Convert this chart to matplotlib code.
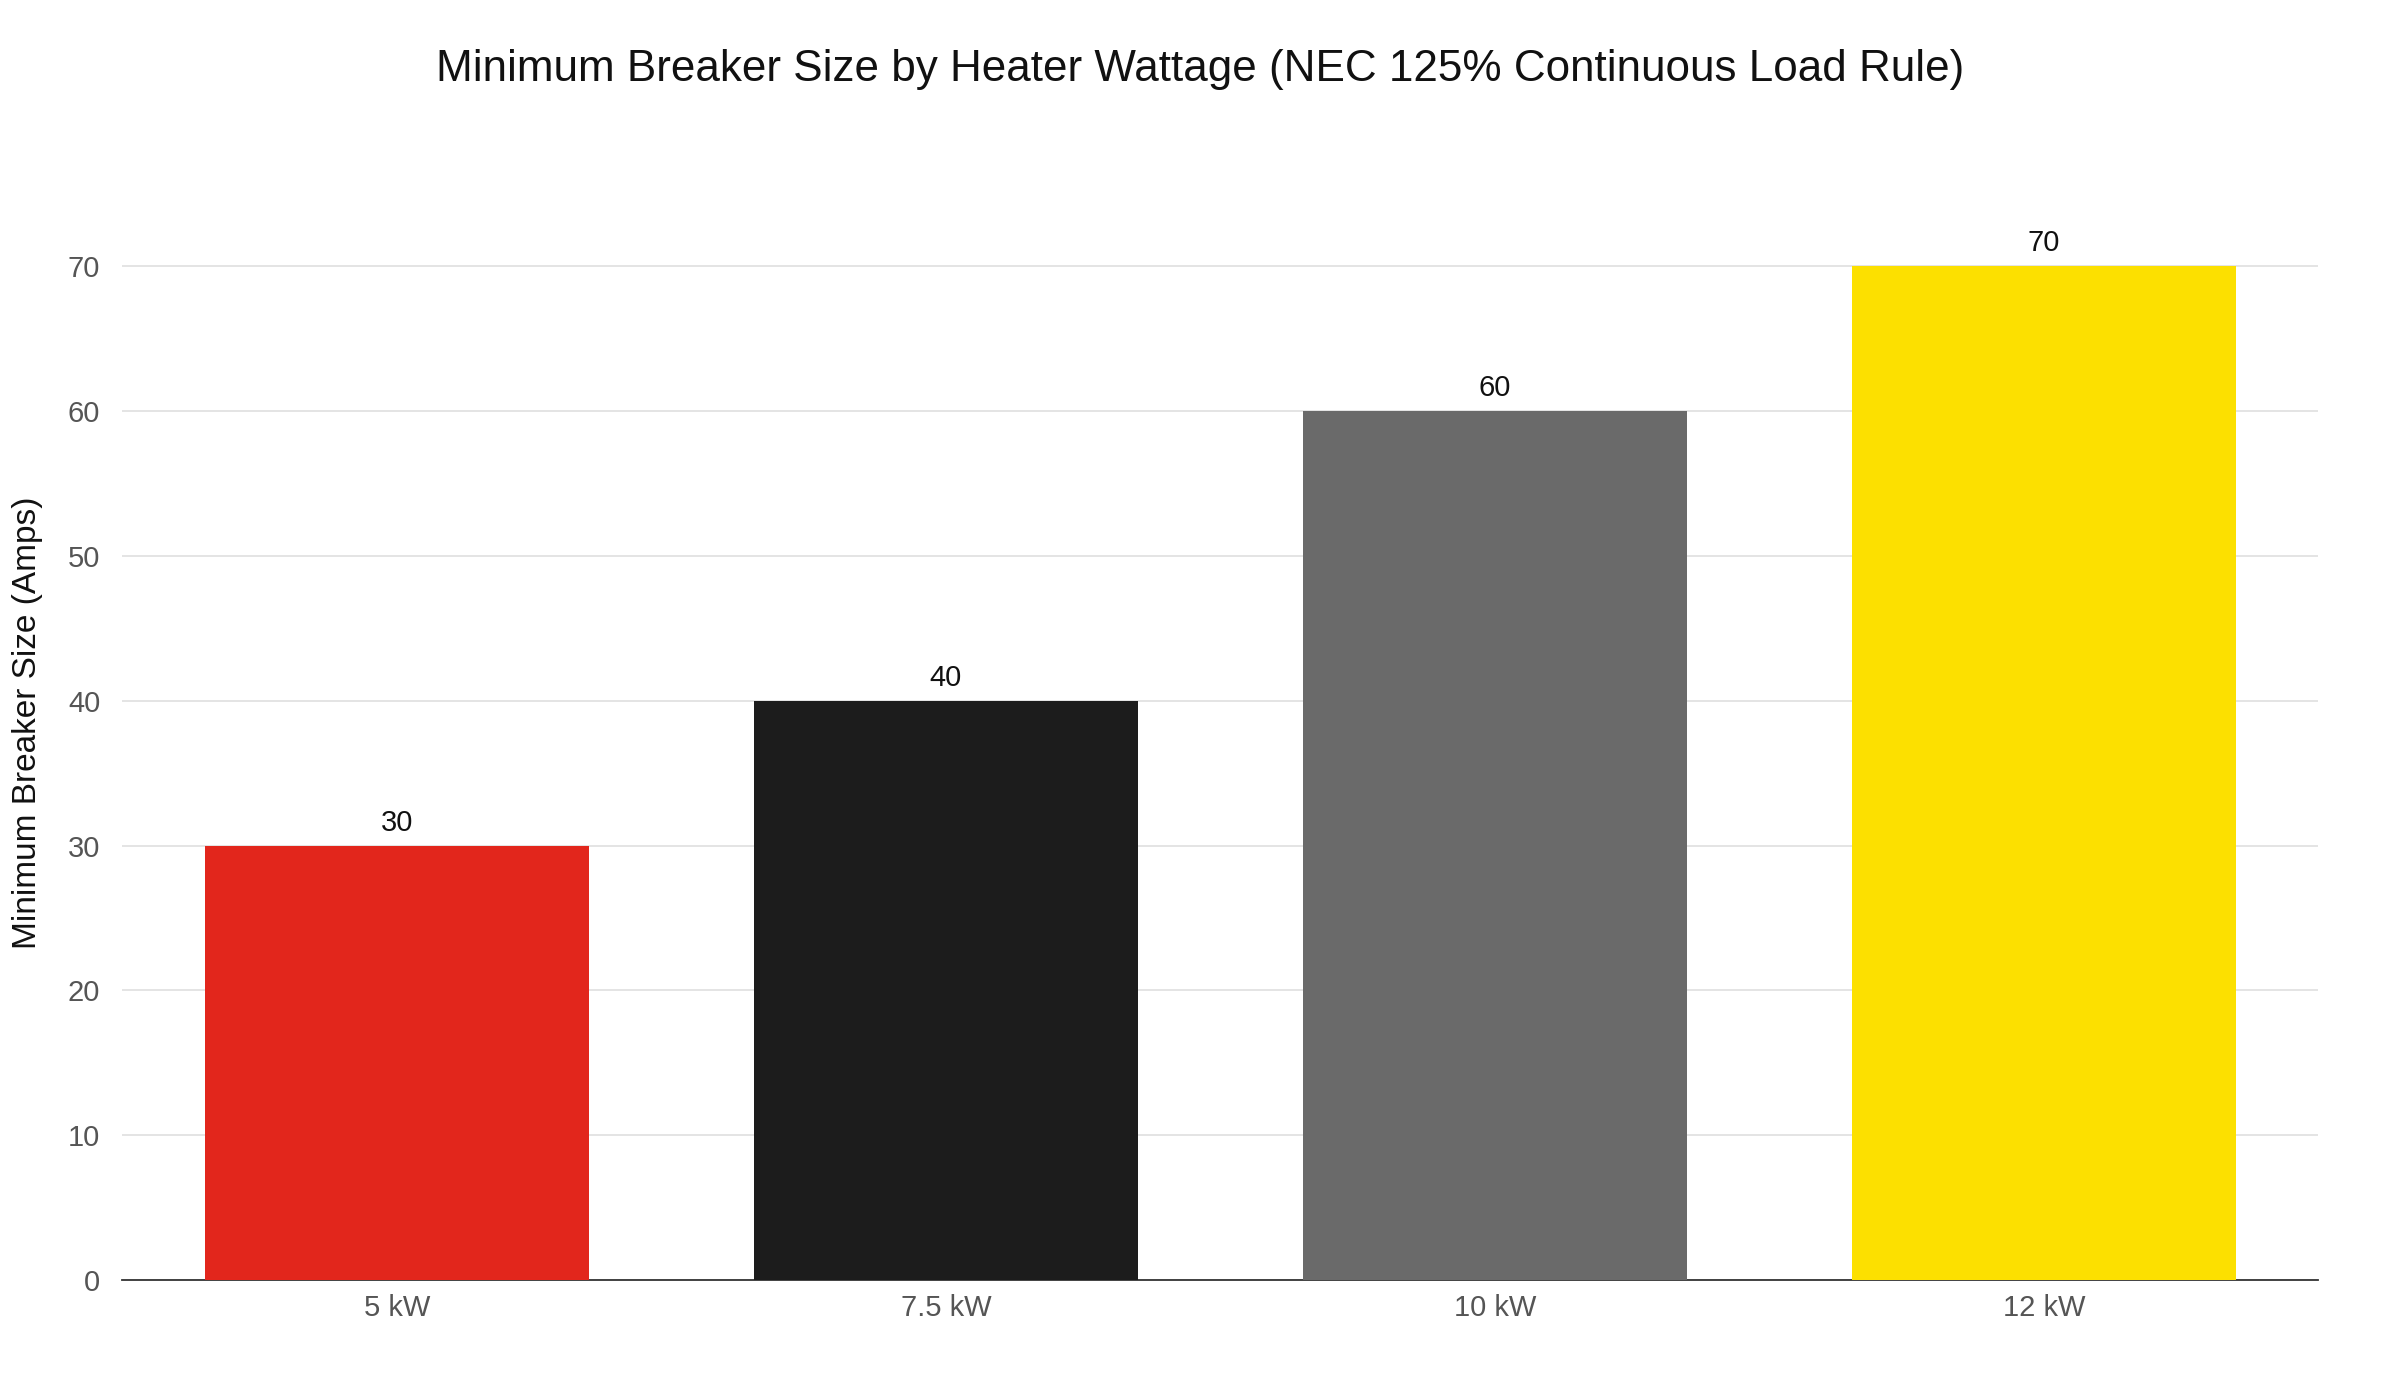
import matplotlib
matplotlib.use("Agg")
import matplotlib.pyplot as plt

categories = ["5 kW", "7.5 kW", "10 kW", "12 kW"]
values = [30, 40, 60, 70]
colors = ["#E2261C", "#1C1C1C", "#6A6A6A", "#FCE000"]
yticks = [0, 10, 20, 30, 40, 50, 60, 70]

plt.rcParams['font.family'] = ['Liberation Sans', 'DejaVu Sans']
fig = plt.figure(figsize=(24, 14), dpi=100)
ax = fig.add_axes([0.051, 0.0855, 0.915, 0.797])
x = list(range(len(categories)))
ax.bar(x, values, width=0.7, color=colors, zorder=3)
for xi, v in zip(x, values):
    ax.text(xi, v + 0.6, str(v), ha='center', va='bottom', fontsize=21, color='#111111')
ax.set_xticks(x)
ax.set_xticklabels(categories)
ax.set_yticks(yticks)
ax.set_ylim(0, 77)
ax.set_xlim(-0.5, len(categories) - 0.5)
ax.grid(axis='y', color='#E2E2E2', linewidth=1.3, zorder=0)
for s in ['top', 'right', 'left']:
    ax.spines[s].set_visible(False)
ax.spines['bottom'].set_color('#333333')
ax.spines['bottom'].set_linewidth(1.3)
ax.tick_params(axis='both', length=0, labelsize=21, labelcolor='#555555', pad=10)
ax.tick_params(axis='y', pad=16)
ax.set_ylabel("Minimum Breaker Size (Amps)", fontsize=24, color='#111111', labelpad=18)
fig.suptitle("Minimum Breaker Size by Heater Wattage (NEC 125% Continuous Load Rule)",
             fontsize=31.7, y=0.965, color='#111111')
fig.savefig("out.png", dpi=100, facecolor='white')
